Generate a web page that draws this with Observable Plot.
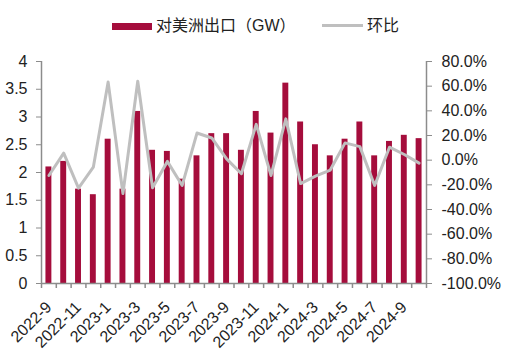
<!DOCTYPE html>
<html><head><meta charset="utf-8">
<script src="https://cdn.jsdelivr.net/npm/d3@7"></script>
<script src="https://cdn.jsdelivr.net/npm/@observablehq/plot@0.6"></script>
<style>
html,body{margin:0;padding:0;background:#fff;overflow:hidden;font-family:"Liberation Sans",Arial,"Noto Sans CJK SC",sans-serif;}
#legend{position:relative;height:45px;width:505px;font-size:16px;color:#222;}
#legend .sw{position:absolute;}
#legend .lb{position:absolute;top:15px;line-height:22px;white-space:nowrap;}
#chart svg{display:block;}
</style></head><body>
<div id="legend">
  <div class="sw" style="left:112px;top:23px;width:40px;height:7px;background:#A50D3C"></div>
  <div class="lb" style="left:156px">对美洲出口（GW）</div>
  <div class="sw" style="left:322px;top:24px;width:41px;height:3px;background:#BFBFBF"></div>
  <div class="lb" style="left:367px">环比</div>
</div>
<div id="chart"></div>
<script>
const months = ["2022-9","2022-10","2022-11","2022-12","2023-1","2023-2","2023-3","2023-4","2023-5","2023-6","2023-7","2023-8","2023-9","2023-10","2023-11","2023-12","2024-1","2024-2","2024-3","2024-4","2024-5","2024-6","2024-7","2024-8","2024-9","2024-10"];
const exportsGW = [2.1,2.2,1.7,1.6,2.6,1.7,3.1,2.4,2.38,1.88,2.3,2.7,2.7,2.4,3.1,2.71,3.61,2.91,2.5,2.3,2.6,2.91,2.3,2.56,2.67,2.61];
const mom = [-12.4,5.7,-22.7,-5.7,63.3,-27,64,-22.4,-1,-20.5,22,18,1,-11,29,-12.4,33.5,-19,-13,-8,14,11,-20.5,10.5,4.6,-2.4];
const leftTicks = [0,0.5,1,1.5,2,2.5,3,3.5,4];
const rightTicks = [-100,-80,-60,-40,-20,0,20,40,60,80];
const xLabels = months.filter((d,i)=>i%2===0);

const toLeft = p => (p + 100) / 180 * 4;
const fromLeft = v => v / 4 * 180 - 100;
const data = months.map((m,i)=>({month:m, value:exportsGW[i], mom:mom[i]}));

const W = 505, H = 313, mL = 41, mR = 79, mT = 16, mB = 75;
const step = (W - mL - mR) / months.length;
const axisColor = "#8c8c8c";
const pxToY = px => px * 4 / (H - mT - mB);

const chart = Plot.plot({
  width: W, height: H,
  marginLeft: mL, marginRight: mR, marginTop: mT, marginBottom: mB,
  style: {fontSize: "16px", fontFamily: "Liberation Sans, Arial, sans-serif", color: "#222", background: "#fff"},
  x: {type: "band", domain: months, paddingInner: 0.6, paddingOuter: 0.3, round: false, axis: null},
  y: {domain: [0, 4], axis: null},
  marks: [
    Plot.barY(data, {x: "month", y: "value", fill: "#A50D3C"}),
    Plot.line(data, {x: "month", y: d => toLeft(d.mom), stroke: "#BFBFBF", strokeWidth: 3, strokeLinejoin: "round"}),
    Plot.ruleY([0], {stroke: axisColor, strokeWidth: 1.5}),
    Plot.ruleX([months[0]], {x: d => d, dx: -step/2, y1: 0, y2: 4, stroke: axisColor, strokeWidth: 1.5}),
    Plot.ruleX([months[months.length-1]], {x: d => d, dx: step/2, y1: 0, y2: 4, stroke: axisColor, strokeWidth: 1.5}),
    Plot.ruleX(months, {x: d => d, dx: -step/2, y1: 0, y2: -pxToY(5), stroke: axisColor, strokeWidth: 1.5}),
    Plot.ruleX([months[months.length-1]], {x: d => d, dx: step/2, y1: 0, y2: -pxToY(5), stroke: axisColor, strokeWidth: 1.5}),
    Plot.axisY({anchor: "left", ticks: leftTicks, tickFormat: d => String(d), tickSize: 5, tickPadding: 9, stroke: axisColor, fill: "#222", label: null}),
    Plot.axisY({anchor: "right", ticks: rightTicks.map(toLeft), tickFormat: v => Math.round(fromLeft(v)).toFixed(1) + "%", tickSize: 5, tickPadding: 10, stroke: axisColor, fill: "#222", label: null}),
    Plot.text(xLabels, {x: d => d, y: -pxToY(21), text: d => d, rotate: -45, textAnchor: "end", lineAnchor: "middle", fill: "#222", fontSize: 16})
  ]
});
document.getElementById("chart").appendChild(chart);
</script>
</body></html>
